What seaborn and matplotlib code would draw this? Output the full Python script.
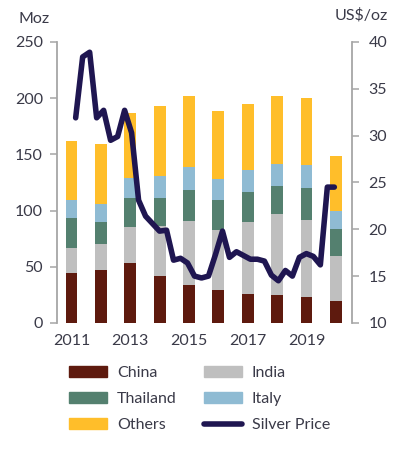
import numpy as np
import pandas as pd
import matplotlib
matplotlib.use("Agg")
import matplotlib.pyplot as plt
import seaborn as sns
from matplotlib.patches import Patch
from matplotlib.lines import Line2D

# Silver demand by country (Moz)
years = ["2011", "2012", "2013", "2014", "2015", "2016", "2017", "2018", "2019", "2020"]
china = [44.5, 47, 53, 42, 34, 29.5, 26, 25, 23, 19.5]
india = [22, 23, 32, 44, 56.5, 53, 64, 72, 68.5, 40]
thailand = [26.5, 20, 26, 25, 27.5, 26.5, 26.5, 25, 28.5, 24]
italy = [16.5, 16, 18, 20, 21, 19, 19.5, 19.5, 20.5, 16]
others = [52, 53.5, 57.5, 62, 63, 60.5, 58.5, 60.5, 59.5, 49]

# Silver price (US$/oz), quarterly-ish points
price = [31.9, 38.4, 38.9, 31.9, 32.7, 29.5, 29.9, 32.7, 30.3, 23.1,
         21.4, 20.6, 19.8, 19.9, 16.7, 16.9, 16.4, 15.0, 14.8, 15.0,
         17.3, 19.8, 17.0, 17.6, 17.2, 16.8, 16.8, 16.6, 15.1, 14.5,
         15.6, 15.0, 17.0, 17.4, 17.1, 16.2, 24.5, 24.5]

series = ["China", "India", "Thailand", "Italy", "Others"]
colors = {"China": "#5E1A0E", "India": "#BFBFBF", "Thailand": "#54806F",
          "Italy": "#8FBBD3", "Others": "#FFBE2A"}
line_color = "#1F1651"
txt = "#3A3A48"
grey = "#A6A6A6"

df = pd.DataFrame({"Year": years, "China": china, "India": india,
                   "Thailand": thailand, "Italy": italy, "Others": others})

sns.set_style("white")
plt.rcParams["font.family"] = ["Lato", "DejaVu Sans"]
fs = 11.5

fig = plt.figure(figsize=(3.95, 4.51), dpi=100)
ax = fig.add_axes([0.144, 0.284, 0.747, 0.623])

# stacked bars
bottom = np.zeros(len(years))
for s in series:
    sns.barplot(data=df, x="Year", y=s, bottom=bottom, color=colors[s],
                width=0.4, ax=ax, saturation=1, linewidth=0)
    bottom += df[s].values

ax.set_ylim(0, 250)
ax.set_yticks([0, 50, 100, 150, 200, 250])
ax.set_xlim(-0.5, 9.55)
ax.set_xticks([0, 2, 4, 6, 8])
ax.set_xticklabels(["2011", "2013", "2015", "2017", "2019"])
ax.set_xlabel("")
ax.set_ylabel("")
ax.tick_params(axis="x", length=0, pad=8, labelsize=fs, labelcolor=txt)
ax.tick_params(axis="y", length=5, width=1.1, color=grey, pad=5,
               labelsize=fs, labelcolor=txt, left=True)

# price line on right axis
ax2 = ax.twinx()
pos = np.linspace(0.14, 8.95, len(price))
sns.lineplot(x=pos, y=price, ax=ax2, color=line_color, linewidth=4,
             solid_capstyle="round", solid_joinstyle="round")
ax2.set_ylim(10, 40)
ax2.set_yticks([10, 15, 20, 25, 30, 35, 40])
ax2.tick_params(axis="y", length=5, width=1.1, color=grey, pad=7,
                labelsize=fs, labelcolor=txt, right=True)
ax2.set_ylabel("")

for a in (ax, ax2):
    for side in ("top", "bottom"):
        a.spines[side].set_visible(False)
    a.spines["left"].set_color(grey)
    a.spines["right"].set_color(grey)
    a.spines["left"].set_linewidth(1.3)
    a.spines["right"].set_linewidth(1.3)
ax.spines["right"].set_visible(False)
ax2.spines["left"].set_visible(False)

fig.text(18 / 395, 1 - 19 / 451, "Moz", fontsize=fs, color=txt, va="center", ha="left")
fig.text(388 / 395, 1 - 15 / 451, "US$/oz", fontsize=fs, color=txt, va="center", ha="right")

handles = [Patch(color=colors["China"]), Patch(color=colors["Thailand"]),
           Patch(color=colors["Others"]), Patch(color=colors["India"]),
           Patch(color=colors["Italy"]),
           Line2D([], [], color=line_color, linewidth=4, solid_capstyle="round")]
labels = ["China", "Thailand", "Others", "India", "Italy", "Silver Price"]
fig.legend(handles, labels, ncol=2, loc="center", bbox_to_anchor=(0.505, 1 - 399 / 451),
           frameon=False, fontsize=fs, labelcolor=txt, handlelength=2.4,
           handleheight=0.65, columnspacing=1.7, labelspacing=0.75, handletextpad=0.6)

fig.savefig("out.png", dpi=100)
